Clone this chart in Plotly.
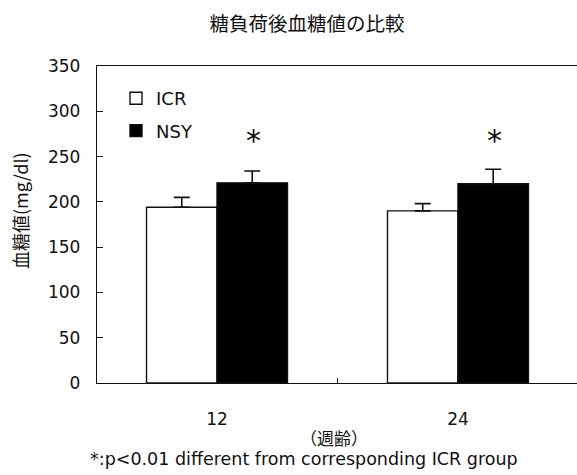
import plotly.graph_objects as go

# Blood glucose after glucose load, by age in weeks
ages = ["12", "24"]
icr_mean = [194, 190]
icr_sem = [11, 8]
nsy_mean = [221, 220]
nsy_sem = [13, 16]
star_level = [268, 268]
y_ticks = [0, 50, 100, 150, 200, 250, 300, 350]

JP = "Noto Sans CJK JP"
LAT = "DejaVu Sans"
INK = "#111111"
LW = 1.4

# plot area in pixels, used to place the free-standing texts
L, R, T, B = 97, 577, 66, 383
PW, PH = R - L, B - T

fig = go.Figure()
fig.add_trace(go.Bar(
    name="ICR", x=ages, y=icr_mean, legendgroup="icr",
    marker=dict(color="white", line=dict(color=INK, width=LW)),
    error_y=dict(type="data", symmetric=False, array=icr_sem,
                 arrayminus=[0] * len(icr_sem), color=INK, thickness=1.6, width=8),
))
fig.add_trace(go.Bar(
    name="NSY", x=ages, y=nsy_mean, legendgroup="nsy",
    marker=dict(color="black", line=dict(color=INK, width=LW)),
    error_y=dict(type="data", symmetric=False, array=nsy_sem,
                 arrayminus=[0] * len(nsy_sem), color=INK, thickness=1.6, width=8),
))

# significance marks above the NSY bars
for i, lvl in enumerate(star_level):
    fig.add_annotation(x=i + 0.15, y=lvl, xref="x", yref="y", text="*",
                       showarrow=False, font=dict(family=LAT, size=30, color=INK),
                       yanchor="middle")

fig.add_annotation(x=(20 - L) / PW, y=(B - 211) / PH, xref="paper", yref="paper",
                   text="血糖値(mg/dl)", textangle=-90, showarrow=False,
                   xanchor="center", yanchor="middle",
                   font=dict(family=JP, size=18, color=INK))
fig.add_annotation(x=(334 - L) / PW, y=(B - 437) / PH, xref="paper", yref="paper",
                   text="（週齢）", showarrow=False, xanchor="center", yanchor="middle",
                   font=dict(family=JP, size=17, color=INK))
fig.add_annotation(x=(304 - L) / PW, y=(B - 459) / PH, xref="paper", yref="paper",
                   text="*:p&lt;0.01 different from corresponding ICR group",
                   showarrow=False, xanchor="center", yanchor="middle",
                   font=dict(family=LAT, size=17.5, color=INK))

fig.update_layout(
    width=577, height=475,
    margin=dict(l=L, r=577 - R, t=T, b=475 - B),
    paper_bgcolor="white", plot_bgcolor="white",
    barmode="group", bargap=0.415, bargroupgap=0,
    font=dict(family=LAT, size=16, color=INK),
    title=dict(text="糖負荷後血糖値の比較", x=307 / 577, xanchor="center",
               y=1 - 24 / 475, yanchor="middle", font=dict(family=JP, size=19.5, color=INK)),
    showlegend=True,
    legend=dict(x=19 / PW, y=1 - 14 / PH, xanchor="left", yanchor="top",
                traceorder="grouped", tracegroupgap=6, bgcolor="rgba(0,0,0,0)",
                font=dict(family=LAT, size=18, color=INK), itemclick=False),
    xaxis=dict(range=[-0.498, 1.494], showline=True, linecolor=INK, linewidth=LW,
               mirror=True, ticks="inside", tickson="boundaries", ticklen=5,
               tickcolor=INK, tickwidth=1, showgrid=False, zeroline=False,
               ticklabelstandoff=20, tickfont=dict(family=LAT, size=17, color=INK)),
    yaxis=dict(range=[0, 350], tickvals=y_ticks, showline=True, linecolor=INK,
               linewidth=LW, ticks="inside", ticklen=6, tickcolor=INK, tickwidth=1,
               showgrid=False, zeroline=False, ticklabelstandoff=12,
               tickfont=dict(family=LAT, size=17, color=INK)),
)

fig.write_html("out.html")
